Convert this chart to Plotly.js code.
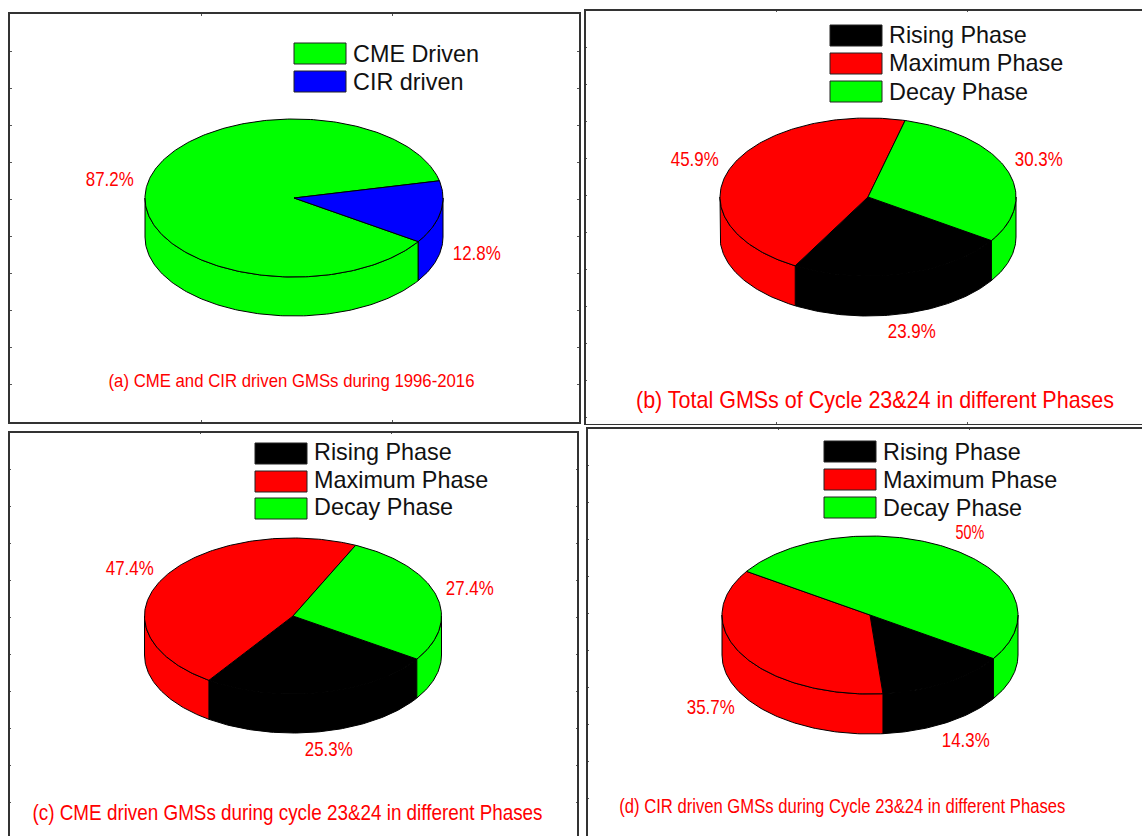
<!DOCTYPE html>
<html>
<head>
<meta charset="utf-8">
<script src="https://cdn.plot.ly/plotly-3.0.1.min.js"></script>
<style>html,body{margin:0;padding:0;background:#fff;overflow:hidden}</style>
</head>
<body>
<div id="chart" style="width:1142px;height:836px"></div>
<script>
// Share of geomagnetic storms, in percent
const drivers = ['CME Driven', 'CIR driven'];
const driverShares = [87.2, 12.8];
const phases = ['Rising Phase', 'Maximum Phase', 'Decay Phase'];
const totalShares = [23.9, 45.9, 30.3];
const cmeShares = [25.3, 47.4, 27.4];
const cirShares = [14.3, 35.7, 50];

const driverColors = ['#00ff00', '#0000ff'];
const phaseColors = ['#000000', '#ff0000', '#00ff00'];

const W = 1142, H = 836;
const START_ANGLE = -33.5;   // where the first slice begins, degrees, running clockwise
const TEXT_FONT = '"Liberation Sans", Arial, sans-serif';
const LABEL_WIDTH = 48;      // condensed width of a percentage label, pixels

// Layout of each panel, in page pixels.
const panels = [
  {id: '', title: '(a) CME and CIR driven GMSs during 1996-2016', titleAt: [291, 380], titleSize: 19, titleWidth: 366,
   names: drivers, shares: driverShares, colors: driverColors,
   box: [10, 14, 578.5, 421.5], lineWidth: 2, xSide: 'bottom', xMirror: true, yMirror: true,
   cx: 294, cy: 198, rx: 149, ry: 79, depth: 39,
   swatchX: [294, 346], swatchY: [43, 71], textX: 351, textY: 0, labels: [[110, 179], [477, 253]]},
  {id: '2', title: '(b) Total GMSs of Cycle 23&24 in different Phases', titleAt: [875, 399], titleSize: 24, titleWidth: 478,
   names: phases, shares: totalShares, colors: phaseColors,
   box: [585.5, 10.5, 1142, 423.5], lineWidth: 1.5, xSide: 'bottom', xMirror: true, yMirror: false,
   cx: 868, cy: 197, rx: 148, ry: 79, depth: 40,
   swatchX: [830, 882], swatchY: [25, 53, 81], textX: 887, textY: 0, labels: [[912, 331], [695, 159], [1039, 159]]},
  {id: '3', title: '(c) CME driven GMSs during cycle 23&24 in different Phases', titleAt: [287, 812], titleSize: 22, titleWidth: 510,
   names: phases, shares: cmeShares, colors: phaseColors,
   box: [9.5, 432.5, 577, 836], lineWidth: 1.5, xSide: 'top', xMirror: false, yMirror: true,
   cx: 293, cy: 616, rx: 148.5, ry: 78, depth: 39,
   swatchX: [255, 307], swatchY: [443, 471, 498], textX: 312, textY: -1.5, labels: [[329, 748], [130, 567], [470, 587]]},
  {id: '4', title: '(d) CIR driven GMSs during Cycle 23&24 in different Phases', titleAt: [843, 806], titleSize: 20, titleWidth: 446,
   names: phases, shares: cirShares, colors: phaseColors,
   box: [587.5, 428.5, 1142, 836], lineWidth: 1.5, xSide: 'top', xMirror: false, yMirror: false,
   cx: 870, cy: 615, rx: 148, ry: 79, depth: 40,
   swatchX: [824, 876], swatchY: [441, 469, 497], textX: 881, textY: 0, labels: [[966, 739], [711, 706], [970, 531]]}
];
const SWATCH_H = 21;

// Points along the disc rim from angle a to angle b, in units of the disc radius
function rim(a, b, drop) {
  const n = Math.max(2, Math.ceil(Math.abs(b - a)));
  const pts = [];
  for (let i = 0; i <= n; i++) {
    const t = (a + (b - a) * i / n) * Math.PI / 180;
    pts.push([Math.cos(t), Math.sin(t) - drop]);
  }
  return pts;
}

const traces = [], shapes = [], annotations = [], condensedWidths = [];
const layout = {
  width: W, height: H, margin: {l: 0, r: 0, t: 0, b: 0},
  paper_bgcolor: '#fff', plot_bgcolor: '#fff', showlegend: false, hovermode: false
};

panels.forEach(p => {
  const [l, t, r, b] = p.box;
  const xa = 'x' + p.id, ya = 'y' + p.id;
  const frame = {
    showline: true, linecolor: '#333', linewidth: p.lineWidth, showgrid: false, zeroline: false,
    showticklabels: false, ticks: 'inside', ticklen: 1.5, tickwidth: 1, tickcolor: '#555', fixedrange: true
  };
  layout['xaxis' + p.id] = Object.assign({}, frame, {
    domain: [l / W, r / W], anchor: ya, side: p.xSide, mirror: p.xMirror ? 'ticks' : false,
    range: [(l - p.cx) / p.rx, (r - p.cx) / p.rx], tick0: (l - p.cx) / p.rx, dtick: 191 / p.rx
  });
  layout['yaxis' + p.id] = Object.assign({}, frame, {
    domain: [1 - b / H, 1 - t / H], anchor: xa, mirror: p.yMirror ? 'ticks' : false,
    range: [(p.cy - b) / p.ry, (p.cy - t) / p.ry], tick0: (p.cy - t) / p.ry, dtick: 37 / p.ry
  });

  const total = p.shares.reduce((s, v) => s + v, 0);
  const drop = p.depth / p.ry;
  const spans = [];
  let angle = START_ANGLE;
  p.shares.forEach(v => { const next = angle - v / total * 360; spans.push([angle, next]); angle = next; });

  // Side wall: only the part of each slice that faces the viewer (-180..0, modulo a turn)
  spans.forEach(([a0, a1], i) => {
    [0, -360].forEach(shift => {
      const hi = Math.min(a0, shift), lo = Math.max(a1, shift - 180);
      if (hi <= lo) return;
      const top = rim(hi, lo, 0), bottom = rim(lo, hi, drop);
      const poly = top.concat(bottom, [top[0]]);
      traces.push({
        type: 'scatter', mode: 'lines', xaxis: xa, yaxis: ya, name: p.names[i],
        x: poly.map(q => q[0]), y: poly.map(q => q[1]), fill: 'toself', fillcolor: p.colors[i],
        line: {color: '#000', width: 1}, hoverinfo: 'skip'
      });
    });
  });

  // Top face of the disc, with each slice's percentage beside it
  spans.forEach(([a0, a1], i) => {
    const poly = [[0, 0]].concat(rim(a0, a1, 0), [[0, 0]]);
    traces.push({
      type: 'scatter', mode: 'lines', xaxis: xa, yaxis: ya, name: p.names[i],
      x: poly.map(q => q[0]), y: poly.map(q => q[1]), fill: 'toself', fillcolor: p.colors[i],
      line: {color: '#000', width: 1}, hoverinfo: 'skip'
    });
    const label = p.shares[i] + '%';
    annotations.push({
      xref: 'paper', yref: 'paper', x: p.labels[i][0] / W, y: 1 - p.labels[i][1] / H,
      text: label, showarrow: false, xanchor: 'center', yanchor: 'middle',
      font: {family: TEXT_FONT, size: 21, color: '#ff0000'}
    });
    condensedWidths.push(LABEL_WIDTH * label.length / 5);
  });

  // Legend swatches and names
  p.names.forEach((name, i) => {
    shapes.push({
      type: 'rect', xref: 'paper', yref: 'paper', layer: 'above',
      x0: p.swatchX[0] / W, x1: p.swatchX[1] / W,
      y0: 1 - p.swatchY[i] / H, y1: 1 - (p.swatchY[i] + SWATCH_H) / H,
      fillcolor: p.colors[i], line: {color: '#222', width: 1}
    });
    annotations.push({
      xref: 'paper', yref: 'paper', x: p.textX / W, y: 1 - (p.swatchY[i] + p.textY + SWATCH_H / 2) / H,
      text: name, showarrow: false, xanchor: 'left', yanchor: 'middle',
      font: {family: TEXT_FONT, size: 23.4, color: '#111'}
    });
    condensedWidths.push(null);
  });

  annotations.push({
    xref: 'paper', yref: 'paper', x: p.titleAt[0] / W, y: 1 - p.titleAt[1] / H,
    text: p.title.replace('&', '&amp;'), showarrow: false, xanchor: 'center', yanchor: 'middle',
    font: {family: TEXT_FONT, size: p.titleSize, color: '#ff0000'}
  });
  condensedWidths.push(p.titleWidth);
});

layout.shapes = shapes;
layout.annotations = annotations;

// The percentages and captions are set in a condensed cut: squeeze the glyphs to their target width
function condenseText(gd) {
  gd.querySelectorAll('.annotation').forEach(node => {
    const width = condensedWidths[+node.getAttribute('data-index')];
    const text = node.querySelector('.annotation-text');
    if (width && text) {
      text.setAttribute('textLength', width);
      text.setAttribute('lengthAdjust', 'spacingAndGlyphs');
    }
  });
}

Plotly.newPlot('chart', traces, layout, {staticPlot: true, displayModeBar: false}).then(condenseText);
</script>
</body>
</html>
